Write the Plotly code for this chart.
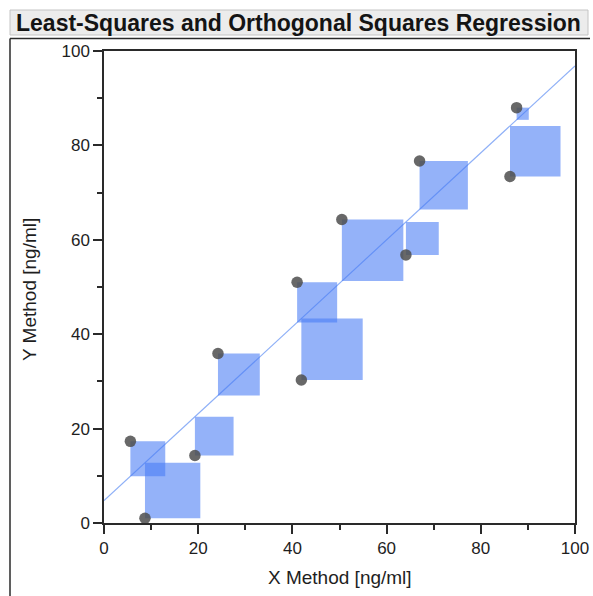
import numpy as np
import plotly.graph_objects as go

# Paired measurements of the two methods
x_method = [5.6, 8.7, 19.3, 24.2, 41.0, 41.9, 50.5, 64.1, 67.0, 86.2, 87.6]
y_method = [17.3, 1.0, 14.3, 35.9, 51.0, 30.3, 64.3, 56.8, 76.7, 73.4, 88.0]

x_ticks = [0, 20, 40, 60, 80, 100]
y_ticks = [0, 20, 40, 60, 80, 100]

W, H = 593, 596
L, R, T, B = 104, 575, 51, 523  # plot area edges in pixels


def px(v):
    return (v - L) / (R - L)


def py(v):
    return (B - v) / (B - T)


# Ordinary least-squares fit of Y on X
slope, intercept = np.polyfit(x_method, y_method, 1)

fig = go.Figure()

# Regression line
fig.add_trace(go.Scatter(
    x=[0, 100], y=[intercept, intercept + slope * 100],
    mode="lines", line=dict(color="#8fb0f7", width=1.2),
    hoverinfo="skip", showlegend=False))

# Squared residuals: a square from each point to the fitted line
for xi, yi in zip(x_method, y_method):
    yl = intercept + slope * xi
    side = abs(yi - yl)
    fig.add_trace(go.Scatter(
        x=[xi, xi + side, xi + side, xi, xi],
        y=[yi, yi, yl, yl, yi],
        mode="lines", fill="toself",
        fillcolor="rgba(70,122,245,0.58)",
        line=dict(width=0), hoverinfo="skip", showlegend=False))

# Observations
fig.add_trace(go.Scatter(
    x=x_method, y=y_method, mode="markers",
    marker=dict(size=11.5, color="rgba(78,78,78,0.85)", line=dict(width=0)),
    showlegend=False))

font = "Liberation Sans, Arial, sans-serif"
axis_common = dict(
    range=[0, 100], showgrid=False, zeroline=False, automargin=False,
    showline=True, linecolor="#2a2a2a", linewidth=1.5, mirror=True,
    ticks="outside", ticklen=9, tickwidth=1.5, tickcolor="#2a2a2a",
    tickfont=dict(family=font, size=17, color="#1e1e1e"),
    minor=dict(dtick=10, ticks="outside", ticklen=5, tickwidth=1.5,
               tickcolor="#2a2a2a"),
)

fig.update_layout(
    width=W, height=H, autosize=False,
    margin=dict(l=L, r=W - R, t=T, b=H - B, pad=0, autoexpand=False),
    paper_bgcolor="white", plot_bgcolor="white",
    xaxis=dict(tickvals=x_ticks, **axis_common),
    yaxis=dict(tickvals=y_ticks, **axis_common),
    shapes=[
        # header bar
        dict(type="rect", xref="paper", yref="paper",
             x0=px(10), x1=px(588), y0=py(35), y1=py(10),
             fillcolor="#ececec", line=dict(color="#c4c4c4", width=1),
             layer="below"),
        # panel frame
        dict(type="line", xref="paper", yref="paper",
             x0=px(10), x1=px(10), y0=py(596), y1=py(38.5),
             line=dict(color="#2a2a2a", width=1.5)),
        dict(type="line", xref="paper", yref="paper",
             x0=px(10), x1=px(590), y0=py(38.5), y1=py(38.5),
             line=dict(color="#2a2a2a", width=1.5)),
    ],
    annotations=[
        dict(text="<b>Least-Squares and Orthogonal Squares Regression</b>",
             xref="paper", yref="paper", x=px(14), y=py(22.5),
             xanchor="left", yanchor="middle", showarrow=False,
             font=dict(family=font, size=23, color="#141414")),
        dict(text="X Method [ng/ml]", xref="paper", yref="paper",
             x=px(340), y=py(577), xanchor="center", yanchor="middle",
             showarrow=False, font=dict(family=font, size=19, color="#1e1e1e")),
        dict(text="Y Method [ng/ml]", xref="paper", yref="paper",
             x=px(29), y=py(290), xanchor="center", yanchor="middle",
             textangle=-90, showarrow=False,
             font=dict(family=font, size=19, color="#1e1e1e")),
    ],
)

fig.write_html("out.html")
